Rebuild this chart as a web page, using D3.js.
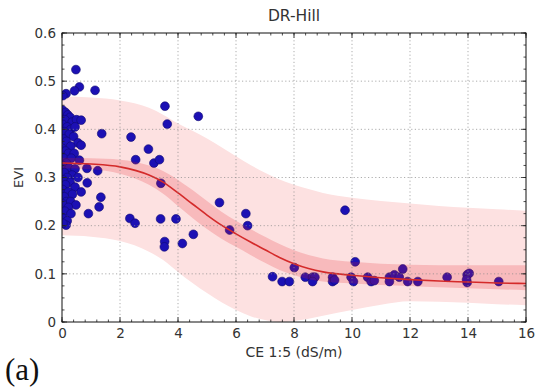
<!DOCTYPE html>
<html>
<head>
<meta charset="utf-8">
<script src="https://cdn.jsdelivr.net/npm/d3@7"></script>
<style>
  html, body { margin: 0; padding: 0; background: #fff; }
  svg { display: block; }
  text { font-family: "DejaVu Sans", sans-serif; fill: #333; }
</style>
</head>
<body>
<svg id="chart" width="536" height="387"></svg>
<script>
// Observations: CE 1:5 (dS/m) vs EVI
const obsX = [
  0.02,0.05,0.12,0.20,0.28,0.10,0.35,0.50,0.66,0.03,0.18,0.30,0.45,0.08,0.25,0.40,0.05,0.15,0.55,0.66,
  0.30,0.02,0.12,0.22,0.42,0.06,0.32,0.60,0.15,0.02,0.25,0.45,0.08,0.35,0.18,0.55,0.04,0.28,0.12,0.45,
  0.02,0.22,0.66,0.36,0.08,0.15,0.30,0.02,0.48,0.22,0.10,0.31,0.04,0.18,0.14,0.03,
  0.48,0.60,0.43,0.14,1.14,0.03,
  1.37,0.86,1.23,0.87,1.34,1.28,0.91,
  3.55,4.70,3.63,2.38,2.98,2.54,3.17,3.36,3.41,5.43,6.34,6.40,5.78,2.34,2.52,3.40,3.93,4.53,4.15,3.54,3.53,
  9.76,10.11,8.01,7.26,7.59,7.84,8.39,8.64,8.72,8.64,9.33,9.33,9.40,9.97,10.05,10.54,10.66,10.77,
  11.29,11.29,11.46,11.63,11.75,11.92,12.27,13.28,13.97,14.04,13.97,13.95,15.06
];
const obsEVI = [
  0.440,0.430,0.435,0.430,0.425,0.420,0.415,0.420,0.419,0.410,0.405,0.400,0.405,0.395,0.390,0.385,0.380,0.375,0.372,0.367,
  0.365,0.360,0.355,0.350,0.350,0.340,0.340,0.336,0.330,0.325,0.320,0.318,0.310,0.305,0.300,0.300,0.295,0.290,0.285,0.280,
  0.275,0.270,0.270,0.265,0.260,0.250,0.250,0.245,0.243,0.238,0.230,0.225,0.215,0.210,0.201,0.205,
  0.524,0.488,0.480,0.474,0.481,0.470,
  0.391,0.319,0.314,0.289,0.259,0.239,0.225,
  0.448,0.427,0.411,0.384,0.359,0.337,0.330,0.337,0.288,0.248,0.225,0.200,0.191,0.215,0.205,0.214,0.214,0.182,0.163,0.167,0.156,
  0.232,0.125,0.113,0.094,0.084,0.084,0.093,0.093,0.093,0.084,0.093,0.084,0.087,0.093,0.084,0.093,0.084,0.086,
  0.093,0.084,0.098,0.093,0.110,0.084,0.084,0.093,0.098,0.101,0.082,0.088,0.084
];

// Fitted DR-Hill curve with its confidence (inner) and prediction (outer) bands
const fitX     = [0, 1, 2, 3, 3.5, 4, 4.5, 5, 5.5, 6, 6.5, 7, 7.5, 8, 8.5, 9, 10, 11, 12, 13, 14, 15, 16];
const fitEVI   = [0.330,0.328,0.322,0.305,0.290,0.268,0.245,0.222,0.201,0.183,0.166,0.150,0.134,0.121,0.111,0.104,0.097,0.092,0.088,0.085,0.083,0.081,0.080];
const innerHi  = [0.341,0.340,0.337,0.325,0.313,0.295,0.274,0.251,0.229,0.210,0.193,0.177,0.162,0.149,0.139,0.132,0.125,0.121,0.119,0.118,0.118,0.118,0.118];
const innerLo  = [0.319,0.317,0.308,0.285,0.266,0.241,0.216,0.193,0.173,0.156,0.139,0.123,0.108,0.097,0.089,0.084,0.080,0.077,0.075,0.072,0.070,0.068,0.066];
const outerHi  = [0.468,0.466,0.460,0.445,0.430,0.412,0.397,0.381,0.363,0.344,0.326,0.310,0.296,0.285,0.276,0.268,0.258,0.251,0.246,0.241,0.237,0.234,0.231];
const outerLo  = [0.180,0.177,0.168,0.146,0.128,0.104,0.081,0.060,0.041,0.025,0.012,0.004,0.000,0.002,0.007,0.013,0.025,0.036,0.043,0.042,0.040,0.037,0.035];

const xTicks = [0, 2, 4, 6, 8, 10, 12, 14, 16];
const yTicks = [0, 0.1, 0.2, 0.3, 0.4, 0.5, 0.6];
const yTickLabels = ["0", "0.1", "0.2", "0.3", "0.4", "0.5", "0.6"];

const svg = d3.select("#chart");
const margin = { left: 62, top: 33, right: 10, bottom: 65 };
const W = 536 - margin.left - margin.right;
const H = 387 - margin.top - margin.bottom;

const x = d3.scaleLinear().domain([0, 16]).range([0, W]);
const y = d3.scaleLinear().domain([0, 0.6]).range([H, 0]);

const g = svg.append("g").attr("transform", `translate(${margin.left},${margin.top})`);

g.append("clipPath").attr("id", "plot-clip")
  .append("rect").attr("width", W).attr("height", H);

const plot = g.append("g").attr("clip-path", "url(#plot-clip)");

const idx = d3.range(fitX.length);
const band = (hi, lo) => d3.area()
  .x(i => x(fitX[i])).y0(i => y(lo[i])).y1(i => y(hi[i]))
  .curve(d3.curveMonotoneX);

// outer (prediction) band
plot.append("path").datum(idx)
  .attr("d", band(outerHi, outerLo))
  .attr("fill", "#fde1e1");

// dotted grid at major ticks
const grid = g.append("g");
grid.selectAll("line.gx").data(xTicks.slice(1, -1)).join("line")
  .attr("x1", d => x(d)).attr("x2", d => x(d)).attr("y1", 0).attr("y2", H)
  .attr("stroke", "#8a8a8a").attr("stroke-width", 0.7).attr("stroke-dasharray", "1.2,2.4");
grid.selectAll("line.gy").data(yTicks.slice(1, -1)).join("line")
  .attr("y1", d => y(d)).attr("y2", d => y(d)).attr("x1", 0).attr("x2", W)
  .attr("stroke", "#8a8a8a").attr("stroke-width", 0.7).attr("stroke-dasharray", "1.2,2.4");

// observations
plot.selectAll("circle").data(obsX.map((v, i) => [v, obsEVI[i]])).join("circle")
  .attr("cx", d => x(d[0])).attr("cy", d => y(d[1])).attr("r", 4.4)
  .attr("fill", "#1c10b4").attr("stroke", "#100a70").attr("stroke-width", 0.6);

// inner (confidence) band, translucent over the points
plot.append("path").datum(idx)
  .attr("d", band(innerHi, innerLo))
  .attr("fill", "#e8202a").attr("fill-opacity", 0.2);

// fitted curve
plot.append("path").datum(idx)
  .attr("d", d3.line().x(i => x(fitX[i])).y(i => y(fitEVI[i])).curve(d3.curveMonotoneX))
  .attr("fill", "none").attr("stroke", "#d42a2a").attr("stroke-width", 1.6);

// inward ticks on all four sides
const xMinor = d3.range(0, 16.001, 0.4);
const yMinor = d3.range(0, 0.6001, 0.025);
const tk = g.append("g").attr("stroke", "#222").attr("stroke-width", 0.8);
function xt(vals, len) {
  vals.forEach(v => {
    tk.append("line").attr("x1", x(v)).attr("x2", x(v)).attr("y1", H).attr("y2", H - len);
    tk.append("line").attr("x1", x(v)).attr("x2", x(v)).attr("y1", 0).attr("y2", len);
  });
}
function yt(vals, len) {
  vals.forEach(v => {
    tk.append("line").attr("y1", y(v)).attr("y2", y(v)).attr("x1", 0).attr("x2", len);
    tk.append("line").attr("y1", y(v)).attr("y2", y(v)).attr("x1", W).attr("x2", W - len);
  });
}
xt(xMinor, 2.5); yt(yMinor, 2.5);
xt(xTicks, 5); yt(yTicks, 5);

// frame
g.append("rect").attr("width", W).attr("height", H)
  .attr("fill", "none").attr("stroke", "#111").attr("stroke-width", 1);

// tick labels via d3 axes
const xAxis = g.append("g").attr("transform", `translate(0,${H})`)
  .call(d3.axisBottom(x).tickValues(xTicks).tickSize(0).tickPadding(6).tickFormat(d3.format("d")));
const yAxis = g.append("g")
  .call(d3.axisLeft(y).tickValues(yTicks).tickSize(0).tickPadding(6).tickFormat((d, i) => yTickLabels[i]));
[xAxis, yAxis].forEach(a => {
  a.select(".domain").remove();
  a.selectAll("text").attr("font-family", "DejaVu Sans, sans-serif").attr("font-size", 13.5).attr("fill", "#333");
});

// titles
svg.append("text").attr("x", margin.left + W / 2).attr("y", 21)
  .attr("text-anchor", "middle").attr("font-size", 15.5).text("DR-Hill");
svg.append("text").attr("x", margin.left + W / 2).attr("y", 357)
  .attr("text-anchor", "middle").attr("font-size", 14).text("CE 1:5 (dS/m)");
svg.append("text").attr("transform", `translate(23,${margin.top + H / 2}) rotate(-90)`)
  .attr("text-anchor", "middle").attr("font-size", 13).text("EVI");
svg.append("text").attr("x", 5).attr("y", 380)
  .style("font-family", "'Liberation Serif', 'DejaVu Serif', serif").style("fill", "#111")
  .attr("font-size", 31).text("(a)");
</script>
</body>
</html>
